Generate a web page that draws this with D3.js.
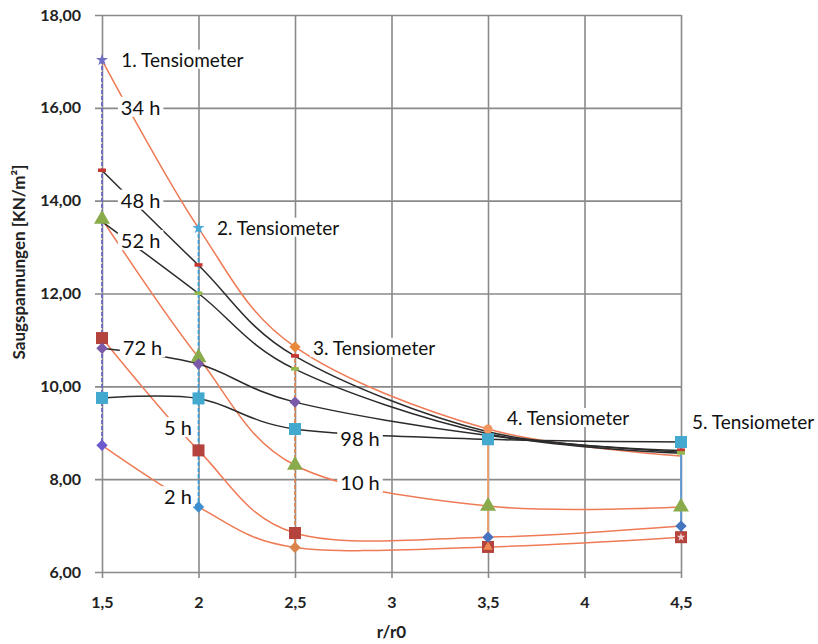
<!DOCTYPE html>
<html>
<head>
<meta charset="utf-8">
<script src="https://cdn.jsdelivr.net/npm/d3@7"></script>
<style>
  body { margin: 0; background: #fff; }
  text { font-family: Lato, "Open Sans", sans-serif; }
</style>
</head>
<body>
<script>
// r/r0 positions of the 5 tensiometers
const rValues = [1.5, 2, 2.5, 3.5, 4.5];
const xTicks = [1.5, 2, 2.5, 3, 3.5, 4, 4.5];
const yTicks = [6, 8, 10, 12, 14, 16, 18];

// Saugspannungen per time step (KN/m²) at each tensiometer
const seriesNames = ["2 h", "5 h", "10 h", "34 h", "48 h", "52 h", "72 h", "98 h"];
const h2  = [8.73, 7.40, 6.53, 6.54, 6.75];
const h5  = [11.04, 8.62, 6.84, 6.75, 6.99];
const h10 = [13.60, 10.62, 8.30, 7.42, 7.40];
const h34 = [17.03, 13.41, 10.85, 9.08, 8.50];
const h48 = [14.65, 12.61, 10.65, 9.02, 8.62];
const h52 = [13.55, 12.00, 10.37, 8.98, 8.56];
const h72 = [10.82, 10.48, 9.66, 8.94, 8.58];
const h98 = [9.75, 9.74, 9.08, 8.86, 8.80];
const seriesValues = [h2, h5, h10, h34, h48, h52, h72, h98];

const tensioNames = ["1. Tensiometer", "2. Tensiometer", "3. Tensiometer", "4. Tensiometer", "5. Tensiometer"];

// label anchors (r/r0, value)
const timeLabelPos = [[1.894, 7.61], [1.894, 9.10], [2.837, 7.91], [1.70, 16.0], [1.70, 14.0], [1.70, 13.13], [1.71, 10.82], [2.837, 8.86]];
const tensioLabelPos = [[1.60, 17.03], [2.096, 13.41], [2.593, 10.82], [3.598, 9.31], [4.557, 9.23]];

// styles
const orange = "#ef7b56", black = "#2b2b2b";
const lineColors = [orange, orange, orange, orange, black, black, black, black];
const red = "#b4423d", green = "#8aab4c", purple = "#7a5aa8", cyan = "#44a9cf", blue = "#4474c0";
const markers = [
  [["diamond", "#6a5acd"], ["diamond", "#3d8fcf"], ["diamond", "#d9844a"], ["squaretri", red], ["squarex", red]],
  [["square", red], ["square", red], ["square", red], ["diamond", blue], ["diamond", blue]],
  [["triangle", green], ["triangle", green], ["triangle", green], ["triangle", green], ["triangle", green]],
  [["star", "#6f6fc4"], ["star", "#4aa8d8"], ["diamond", "#e8893c"], ["circle", "#f0955e"], null],
  [["dash", "#c8372f"], ["dash", "#c8372f"], ["dash", "#c8372f"], null, ["dash", "#c8372f"]],
  [["dash", "#93b84e"], ["dash", "#93b84e"], ["dash", "#93b84e"], null, ["dash", "#93b84e"]],
  [["diamond", purple], ["diamond", purple], ["diamond", purple], null, null],
  [["square", cyan], ["square", cyan], ["square", cyan], ["square", cyan], ["square", cyan]]
];
const drawOrder = [0, 1, 3, 4, 5, 2, 7, 6];
const tensioColors = ["#6a6ac4", "#3fa0d8", "#e08850", "#f0a070", "#5b9bd5"];
const tensioDash = ["4,2", "4,2", "4,2", null, null];

const width = 818, height = 644;
const plotL = 102, plotR = 681, plotT = 15, plotB = 572;

const svg = d3.select("body").append("svg")
  .attr("width", width).attr("height", height);
svg.append("rect").attr("width", width).attr("height", height).attr("fill", "#fff");

const x = d3.scaleLinear().domain([1.5, 4.5]).range([plotL, plotR]);
const y = d3.scaleLinear().domain([6, 18]).range([plotB, plotT]);

const de = d3.formatLocale({decimal: ",", thousands: ".", grouping: [3], currency: ["", " €"]});

// y gridlines + labels
svg.append("g")
  .attr("transform", `translate(${plotL - 7},0)`)
  .call(d3.axisLeft(y).tickValues(yTicks).tickFormat(de.format(".2f"))
    .tickSizeInner(-(plotR - plotL + 7)).tickSizeOuter(0).tickPadding(14))
  .call(g => g.select(".domain").remove())
  .call(g => g.selectAll("line").attr("stroke", "#8a8a8a").attr("stroke-width", 1.6))
  .call(g => g.selectAll("text").attr("fill", "#222").style("font-size", "16px").style("font-weight", "700"));

// x gridlines + labels
svg.append("g")
  .attr("transform", `translate(0,${plotB + 6})`)
  .call(d3.axisBottom(x).tickValues(xTicks).tickFormat(de.format(".1~f"))
    .tickSizeInner(-(plotB + 6 - plotT)).tickSizeOuter(0).tickPadding(19))
  .call(g => g.select(".domain").remove())
  .call(g => g.selectAll("line").attr("stroke", "#8a8a8a").attr("stroke-width", 1.6))
  .call(g => g.selectAll("text").attr("fill", "#222").style("font-size", "16px").style("font-weight", "700"));

// axis titles
svg.append("text").attr("x", (plotL + plotR) / 2).attr("y", 638)
  .attr("text-anchor", "middle").style("font-size", "17px").style("font-weight", "700")
  .attr("fill", "#222").text("r/r0");
svg.append("text").attr("transform", "translate(25,262) rotate(-90)")
  .attr("text-anchor", "middle").style("font-size", "17px").style("font-weight", "700")
  .attr("fill", "#222").text("Saugspannungen [KN/m²]");

// time curves
const line = d3.line().x((d, i) => x(rValues[i])).y(d => y(d)).curve(d3.curveCatmullRom.alpha(0));
svg.append("g").selectAll("path")
  .data(seriesValues)
  .join("path")
  .attr("d", d => line(d))
  .attr("fill", "none")
  .attr("stroke", (d, i) => lineColors[i])
  .attr("stroke-width", 1.5);

// tensiometer verticals
svg.append("g").selectAll("line")
  .data(rValues)
  .join("line")
  .attr("x1", d => x(d)).attr("x2", d => x(d))
  .attr("y1", (d, i) => y(d3.max(seriesValues, s => s[i])))
  .attr("y2", (d, i) => y(d3.min(seriesValues, s => s[i])))
  .attr("stroke", (d, i) => tensioColors[i])
  .attr("stroke-width", 1.8)
  .attr("stroke-dasharray", (d, i) => tensioDash[i]);

// markers
const mg = svg.append("g");
function marker(type, color, cx, cy) {
  const g = mg.append("g").attr("transform", `translate(${cx},${cy})`);
  if (type === "square" || type === "squaretri" || type === "squarex") {
    g.append("rect").attr("x", -6).attr("y", -6).attr("width", 12).attr("height", 12).attr("fill", color);
    if (type === "squaretri")
      g.append("path").attr("d", d3.symbol(d3.symbolTriangle, 40)()).attr("fill", "#f08a50");
    if (type === "squarex")
      g.append("path").attr("d", d3.symbol(d3.symbolStar, 22)()).attr("fill", "#f3d0d0");
  } else if (type === "diamond") {
    g.append("path").attr("d", d3.symbol(d3.symbolSquare, 64)()).attr("transform", "rotate(45)").attr("fill", color);
  } else if (type === "triangle") {
    g.append("path").attr("d", d3.symbol(d3.symbolTriangle, 110)()).attr("fill", color);
  } else if (type === "star") {
    g.append("path").attr("d", d3.symbol(d3.symbolStar, 45)()).attr("fill", color);
  } else if (type === "circle") {
    g.append("circle").attr("r", 4.5).attr("fill", color);
  } else if (type === "dash") {
    g.append("rect").attr("x", -4).attr("y", -2).attr("width", 8).attr("height", 3.5).attr("fill", color);
  }
}
drawOrder.forEach(si => {
  seriesValues[si].forEach((v, i) => {
    const m = markers[si][i];
    if (m) marker(m[0], m[1], x(rValues[i]), y(v));
  });
});

// labels with white boxes
function label(txt, px, py, size, anchor) {
  const g = svg.append("g");
  const t = g.append("text").attr("x", px).attr("y", py).attr("dy", "0.35em")
    .attr("text-anchor", anchor).style("font-size", size + "px").attr("fill", "#111").text(txt);
  const b = t.node().getBBox();
  g.insert("rect", "text").attr("x", b.x - 3).attr("y", b.y + 2).attr("width", b.width + 6)
    .attr("height", b.height - 4).attr("fill", "#fff");
}
seriesNames.forEach((n, i) => label(n, x(timeLabelPos[i][0]), y(timeLabelPos[i][1]), 20, "middle"));
tensioNames.forEach((n, i) => label(n, x(tensioLabelPos[i][0]), y(tensioLabelPos[i][1]), 19, "start"));
</script>
</body>
</html>
